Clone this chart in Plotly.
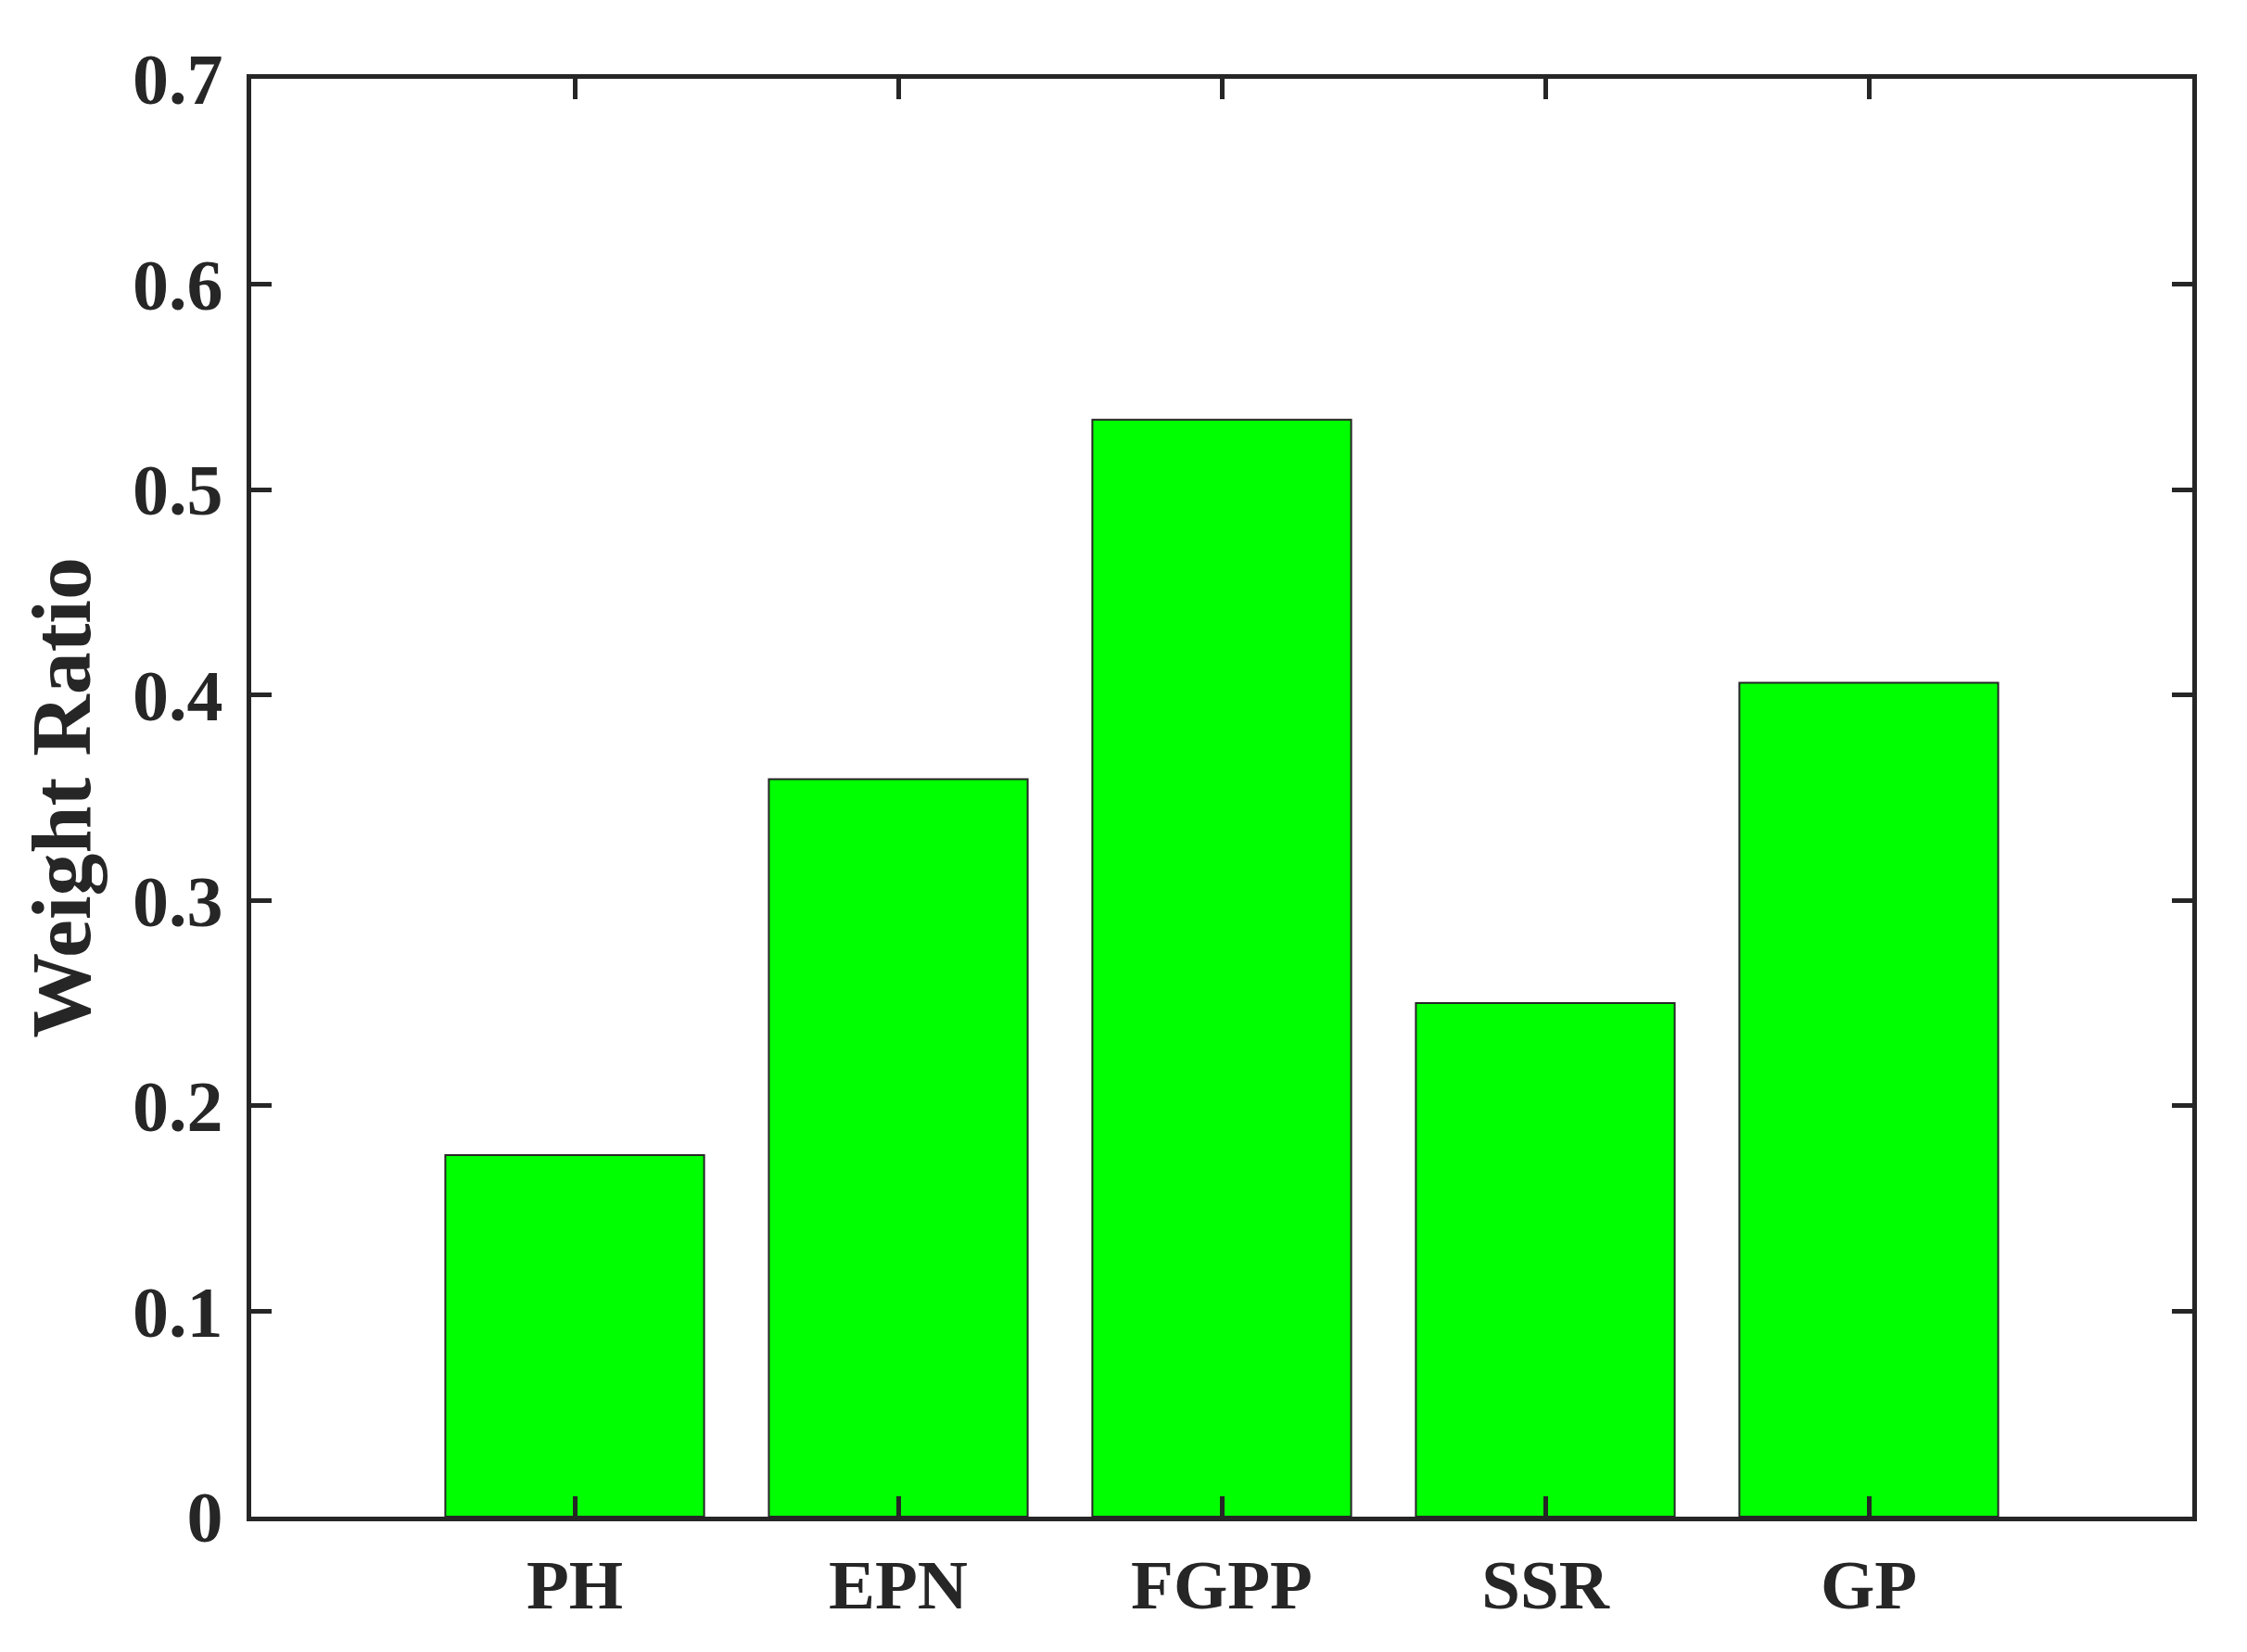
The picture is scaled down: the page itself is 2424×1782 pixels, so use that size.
import plotly.graph_objects as go

categories = ["PH", "EPN", "FGPP", "SSR", "GP"]
weight_ratio = [0.176, 0.359, 0.534, 0.250, 0.406]
y_ticks = [0, 0.1, 0.2, 0.3, 0.4, 0.5, 0.6, 0.7]
y_ticktext = ["0", "0.1", "0.2", "0.3", "0.4", "0.5", "0.6", "0.7"]

axis_color = "#262626"
font_family = "Liberation Serif"

fig = go.Figure()
fig.add_trace(go.Bar(
    x=categories,
    y=weight_ratio,
    width=0.8,
    marker=dict(color="#00FF00", line=dict(color="#262626", width=2)),
))

fig.update_layout(
    width=2424,
    height=1782,
    paper_bgcolor="white",
    plot_bgcolor="white",
    showlegend=False,
    margin=dict(l=263, r=67, t=77, b=154, pad=0),
    font=dict(family=font_family, size=76, color=axis_color),
)

fig.update_xaxes(
    type="category",
    range=[-1, 5],
    showline=True, linecolor=axis_color, linewidth=5,
    mirror="ticks",
    ticks="inside", ticklen=22, tickwidth=5, tickcolor=axis_color,
    showgrid=False, zeroline=False,
    tickfont=dict(family=font_family, size=75, color=axis_color, weight="bold"),
    ticklabelstandoff=4,
)
fig.update_yaxes(
    range=[0, 0.7],
    tickvals=y_ticks, ticktext=y_ticktext,
    showline=True, linecolor=axis_color, linewidth=5,
    mirror="ticks",
    ticks="inside", ticklen=22, tickwidth=5, tickcolor=axis_color,
    showgrid=False, zeroline=False,
    tickfont=dict(family=font_family, size=78, color=axis_color, weight="bold"),
    ticklabelstandoff=10,
    title=dict(text="<b>Weight Ratio</b>", font=dict(family=font_family, size=92, color=axis_color), standoff=16),
)

fig.write_html("out.html")
